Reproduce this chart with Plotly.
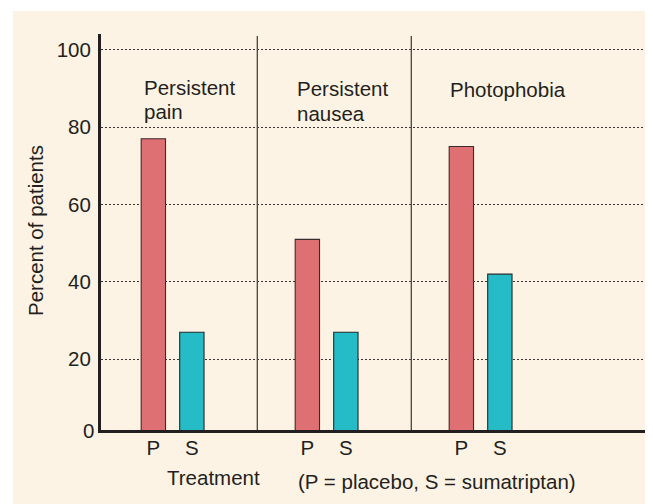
import plotly.graph_objects as go

# ---- data ----
groups = [["Persistent", "pain"], ["Persistent", "nausea"], ["Photophobia"]]
placebo = [77, 51, 75]
sumatriptan = [27, 27, 42]
tick_labels = ["P", "S"]
y_ticks = [20, 40, 60, 80, 100]

# ---- styling / layout constants ----
FONT = "Liberation Sans, Arial, sans-serif"
FS = 20.5
TXT = "#231f20"
CREAM = "#fdf3e4"
P_COL = "#de6f73"
S_COL = "#26bcc7"
OFF_P, OFF_S = 0.34, 0.59
BAR_W = 0.158

# page body has an 8px margin, so the figure is drawn 8px in from the window corner
SHIFT = 8
WIN_W, WIN_H = 653, 504
PX0, PX1, PY0, PY1 = 101, 645, 34, 430      # plot area in window pixels
W, H = WIN_W - SHIFT, WIN_H - SHIFT
L, T = PX0 - SHIFT, PY0 - SHIFT
R = W - (PX1 - SHIFT)
B = H - (PY1 - SHIFT)
X_RANGE = [0, (PX1 - PX0) / 154]
Y_RANGE = [1.73, 104.06]


def paper_x(px):
    return (px - PX0) / (PX1 - PX0)


def paper_y(py):
    return (PY1 - py) / (PY1 - PY0)


n = len(groups)
xp = [g + OFF_P for g in range(n)]
xs = [g + OFF_S for g in range(n)]

fig = go.Figure()
fig.add_trace(go.Bar(x=xp, y=placebo, width=BAR_W, name="Placebo",
                     marker=dict(color=P_COL, line=dict(color="#3b2b2b", width=1.1))))
fig.add_trace(go.Bar(x=xs, y=sumatriptan, width=BAR_W, name="Sumatriptan",
                     marker=dict(color=S_COL, line=dict(color="#1f2b2d", width=1.1))))

tickvals = []
ticktext = []
for g in range(n):
    tickvals += [g + OFF_P, g + OFF_S]
    ticktext += tick_labels

shapes = [
    dict(type="rect", xref="paper", yref="paper", layer="below",
         x0=paper_x(13), x1=paper_x(WIN_W + 10),
         y0=paper_y(WIN_H + 10), y1=paper_y(11),
         fillcolor=CREAM, line=dict(width=0)),
]
for g in range(1, n):
    shapes.append(dict(type="line", xref="x", yref="paper", x0=g + 0.015, x1=g + 0.015,
                       y0=0, y1=paper_y(36), line=dict(color="#4a4242", width=1.3), layer="above"))

tf = dict(family=FONT, size=FS, color=TXT)
annotations = []
label_left = [141.5, 295, 448]
label_first_center = [87.3, 89.0, 89.7]
for g, lines in enumerate(groups):
    for k, line in enumerate(lines):
        annotations.append(dict(x=paper_x(label_left[g]), y=paper_y(label_first_center[g] + 24 * k),
                                xref="paper", yref="paper", text=line, showarrow=False,
                                xanchor="left", yanchor="middle", font=tf))
annotations += [
    dict(x=0, y=0, xref="paper", yref="paper", text="0", showarrow=False,
         xanchor="right", yanchor="middle", xshift=-5, font=tf),
    dict(x=paper_x(35), y=paper_y(231), xref="paper", yref="paper",
         text="Percent of patients", textangle=-90, showarrow=False,
         xanchor="center", yanchor="middle", font=tf),
    dict(x=paper_x(213.7), y=paper_y(477), xref="paper", yref="paper",
         text="Treatment", showarrow=False, xanchor="center", yanchor="middle", font=tf),
    dict(x=paper_x(436.5), y=paper_y(481.5), xref="paper", yref="paper",
         text="(P = placebo, S = sumatriptan)", showarrow=False,
         xanchor="center", yanchor="middle", font=tf),
]

fig.update_layout(
    width=W, height=H,
    margin=dict(l=L, r=R, t=T, b=B, pad=0),
    paper_bgcolor="white", plot_bgcolor="rgba(0,0,0,0)",
    showlegend=False, barmode="overlay",
    font=tf,
    shapes=shapes, annotations=annotations,
    xaxis=dict(range=X_RANGE, tickvals=tickvals, ticktext=ticktext, showgrid=False,
               zeroline=False, showline=True, linecolor=TXT, linewidth=3,
               ticks="", ticklabelstandoff=-3, tickfont=tf),
    yaxis=dict(range=Y_RANGE, tickvals=y_ticks, showgrid=True, gridcolor="#3a3333",
               griddash="2px,2px", gridwidth=1.1, zeroline=False, showline=True,
               linecolor=TXT, linewidth=3, ticks="", ticklabelstandoff=3,
               tickfont=tf),
)

fig.write_html("out.html")
